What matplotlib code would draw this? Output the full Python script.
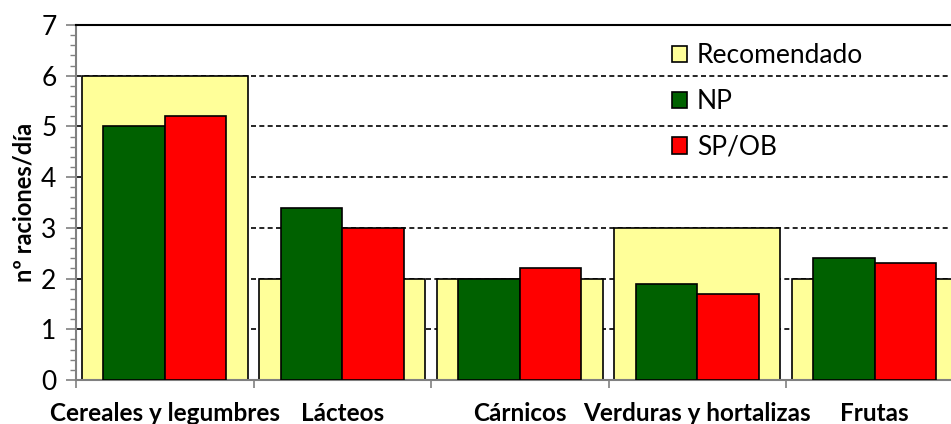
import numpy as np
import matplotlib
matplotlib.use("Agg")
import matplotlib.pyplot as plt

# datos
categorias = ["Cereales y legumbres", "Lácteos", "Cárnicos",
              "Verduras y hortalizas", "Frutas"]
recomendado = [6, 2, 2, 3, 2]
np_vals = [5.0, 3.4, 2.0, 1.9, 2.4]
spob_vals = [5.2, 3.0, 2.2, 1.7, 2.3]

plt.rcParams['font.family'] = ['Lato', 'DejaVu Sans']

fig = plt.figure(figsize=(9.51, 4.24), dpi=100)
# el area de dibujo se sale un poco por la derecha, como en el original
ax = fig.add_axes([76 / 951, 1 - 380 / 424, (963.5 - 76) / 951, 355 / 424])

x = np.arange(len(categorias))
w_rec = 0.935
w_bar = 0.346

ax.bar(x, recomendado, w_rec, color='#FFFF99', edgecolor='black',
       linewidth=1.2, label='Recomendado', zorder=2)
ax.bar(x - w_bar / 2, np_vals, w_bar, color='#006100', edgecolor='black',
       linewidth=1.2, label='NP', zorder=3)
ax.bar(x + w_bar / 2, spob_vals, w_bar, color='#FF0000', edgecolor='black',
       linewidth=1.2, label='SP/OB', zorder=3)

ax.set_xlim(-0.5, len(categorias) - 0.5)
ax.set_ylim(0, 7)

# rejilla discontinua
for yv in range(1, 7):
    ax.axhline(yv, color='black', linestyle=(0, (3, 2)), linewidth=1.2,
               zorder=1)

ax.set_yticks(range(0, 8))
ax.set_yticks(np.arange(0, 7.01, 0.2), minor=True)
ax.tick_params(axis='y', which='major', direction='out', length=7,
               width=1.2, color='#808080', labelsize=19, pad=7)
ax.tick_params(axis='y', which='minor', direction='out', length=4,
               width=1.0, color='#808080')

ax.set_xticks(np.arange(-0.5, len(categorias), 1.0))
ax.set_xticklabels([])
ax.tick_params(axis='x', which='major', direction='out', length=6,
               width=1.2, color='#808080')
ax.set_xticks(x, minor=True)
ax.set_xticklabels(categorias, minor=True, fontsize=17.5, fontweight='bold')
ax.tick_params(axis='x', which='minor', length=0, pad=16)

ax.spines['left'].set_color('#808080')
ax.spines['left'].set_linewidth(1.5)
ax.spines['bottom'].set_color('#808080')
ax.spines['bottom'].set_linewidth(1.5)
ax.spines['top'].set_color('black')
ax.spines['top'].set_linewidth(1.5)
ax.spines['right'].set_visible(False)

ax.set_ylabel("nº raciones/día", fontsize=17, fontweight='bold', labelpad=4)

leg = ax.legend(loc='upper left', bbox_to_anchor=(0.671, 0.948), frameon=False,
                fontsize=19, handlelength=0.58, handleheight=0.58,
                handletextpad=0.38, labelspacing=0.78, borderaxespad=0,
                borderpad=0)

fig.savefig("out.png", dpi=100)
